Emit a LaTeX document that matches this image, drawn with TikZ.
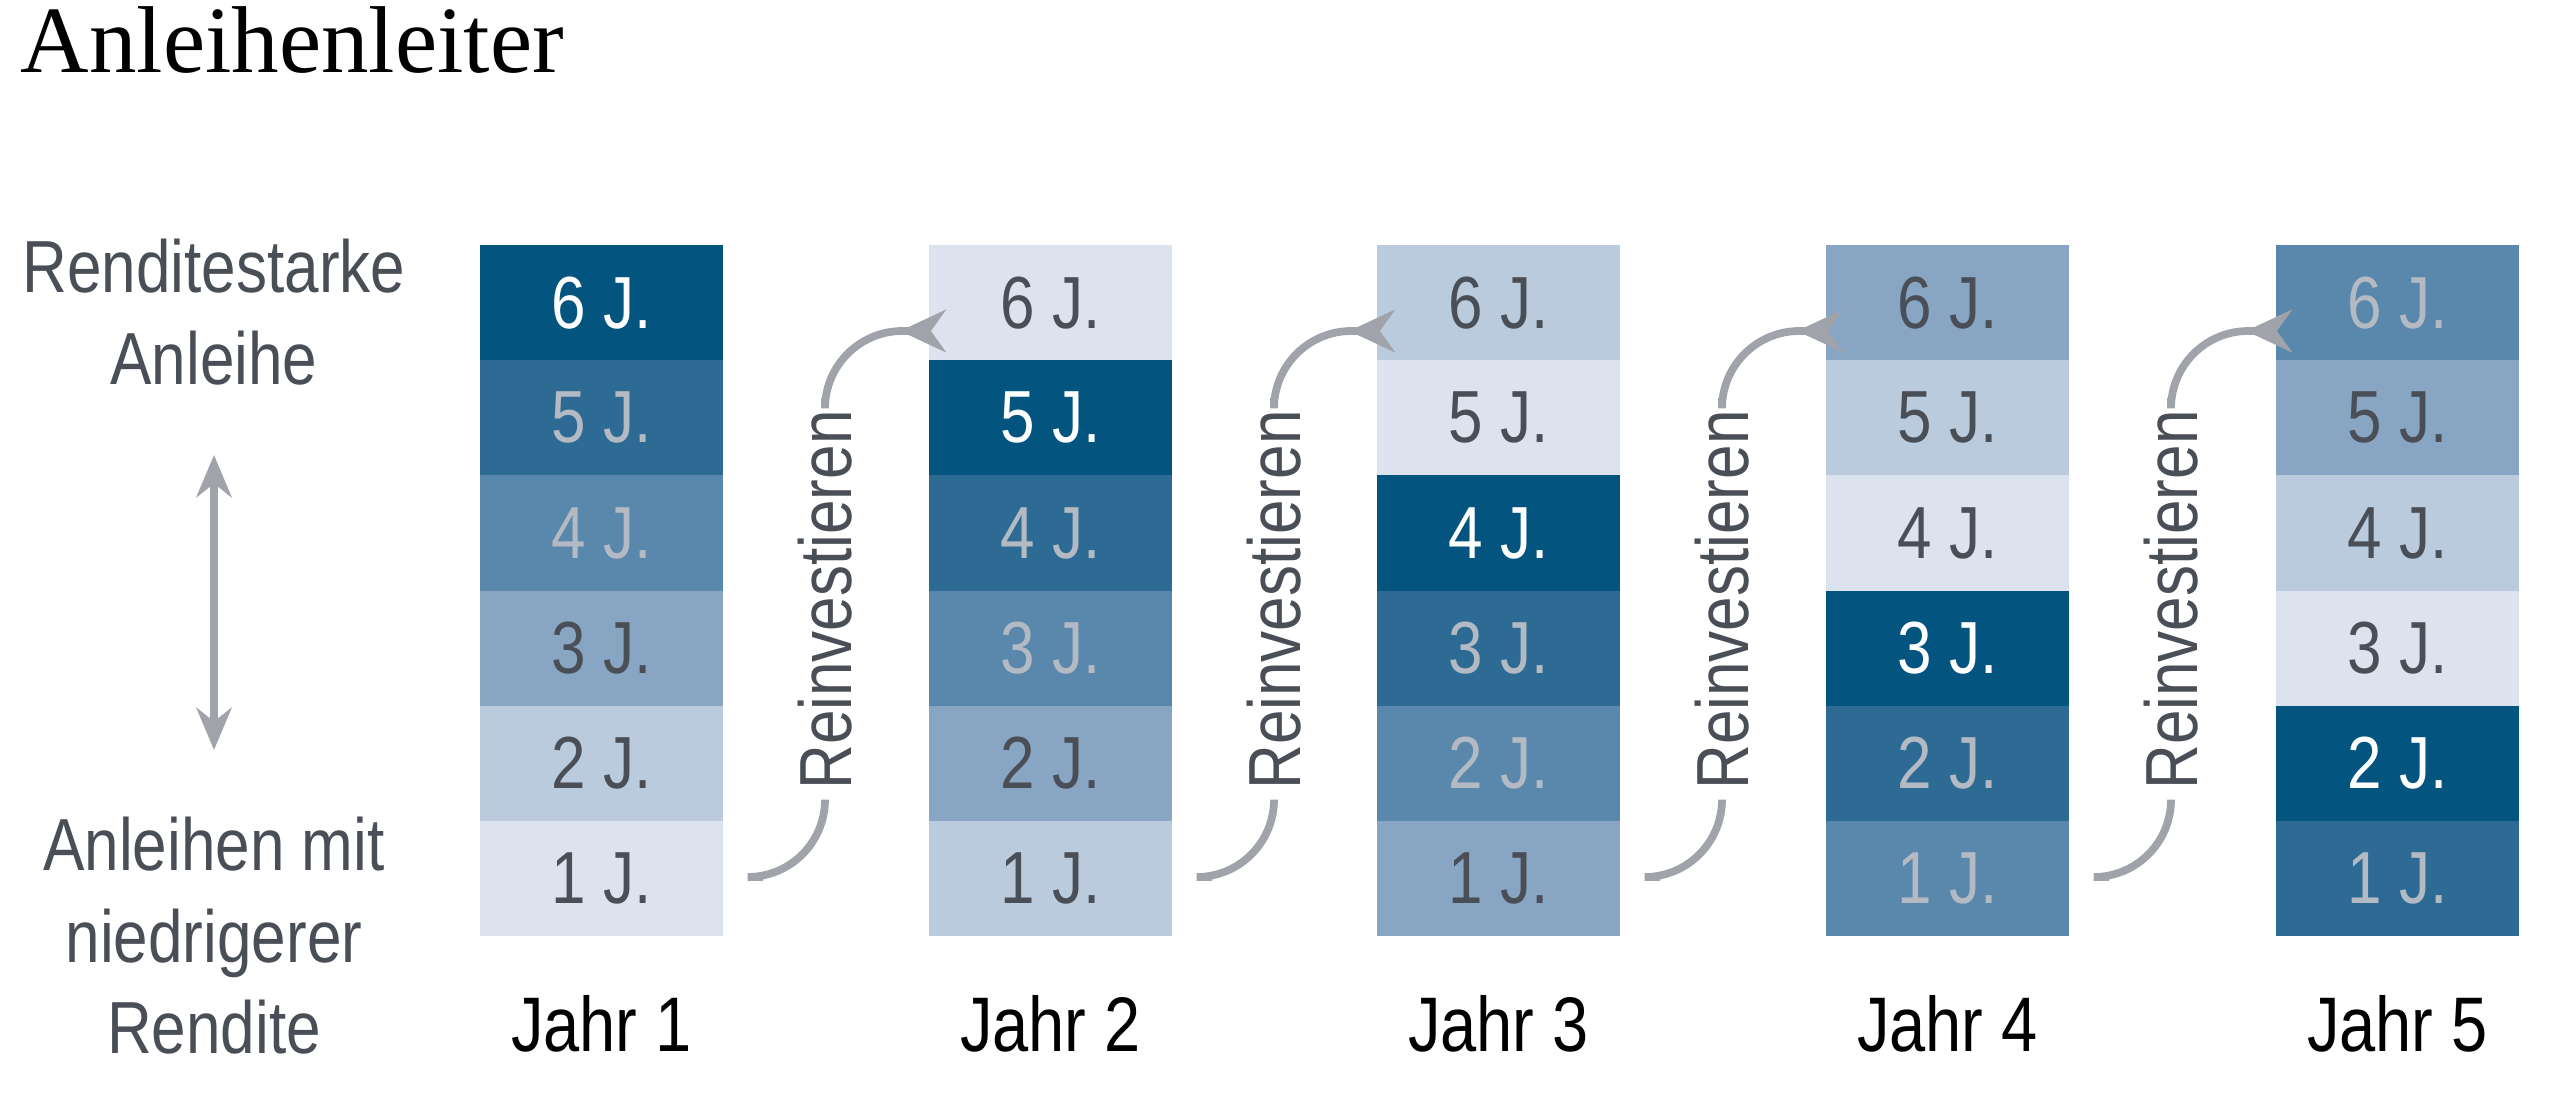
\documentclass[tikz,border=0pt]{standalone}
\usepackage{fontspec}
\setmainfont{Liberation Sans}[FakeStretch=0.84]
\newfontfamily\titlefont{Liberation Serif}
\usetikzlibrary{arrows.meta}
\definecolor{lvA}{HTML}{03547E}
\definecolor{lvB}{HTML}{2E6B94}
\definecolor{lvC}{HTML}{5A87AC}
\definecolor{lvD}{HTML}{88A6C4}
\definecolor{lvE}{HTML}{BACBDE}
\definecolor{lvF}{HTML}{DCE3EE}
\definecolor{txdark}{HTML}{4A4F57}
\definecolor{txlight}{HTML}{B3BAC4}
\definecolor{arrowgray}{HTML}{A0A4AA}
\tikzset{
  cellbox/.style={minimum width=243\pgflinewidth, inner sep=0pt, font=\fontsize{21}{24}\selectfont},
  labeltext/.style={font=\fontsize{21}{26}\selectfont, text=txdark, align=center},
  yeartext/.style={font=\fontsize{22}{26}\selectfont, text=black},
  reinvest/.style={draw=arrowgray, line width=2.2pt, rounded corners=22pt}
}
\begin{document}
\begin{tikzpicture}[x=0.01cm, y=-0.01cm]
  \useasboundingbox (0,0) rectangle (2560,1100);
  % title
  \node (title) [anchor=base west, inner sep=0pt, font=\titlefont\fontsize{27}{30}\selectfont]
        at (20,72) {Anleihenleiter};

  % left axis labels
  \node (high) [labeltext] at (214,312) {Renditestarke\\Anleihe};
  \node (low) [labeltext] at (214,936) {Anleihen mit\\niedrigerer\\Rendite};
  \coordinate (uptip) at (214,455);
  \coordinate (downtip) at (214,750);
  \draw[arrowgray, line width=2.2pt, {Stealth[length=12pt,width=10pt]}-{Stealth[length=12pt,width=10pt]}]
       (uptip) -- (downtip);

  % ladder columns
  \foreach \c/\xl in {0/480, 1/929, 2/1377, 3/1826, 4/2276} {
    \foreach \r in {0,...,5} {
      \pgfmathtruncatemacro{\lv}{mod(\r-\c+6,6)}
      \pgfmathtruncatemacro{\yrs}{6-\r}
      \ifcase\lv \def\fc{lvA}\def\tc{white}
      \or \def\fc{lvB}\def\tc{txlight}
      \or \def\fc{lvC}\def\tc{txlight}
      \or \def\fc{lvD}\def\tc{txdark}
      \or \def\fc{lvE}\def\tc{txdark}
      \else \def\fc{lvF}\def\tc{txdark}\fi
      \fill[\fc] (\xl,245+\r*115.2) rectangle (\xl+243,245+\r*115.2+115.2);
      \node (cell-\c-\r) [text=\tc, font=\fontsize{21}{24}\selectfont]
            at (\xl+121.5,245+\r*115.2+57.6) {\yrs\ J.};
    }
    \pgfmathtruncatemacro{\yr}{\c+1}
    \node (year-\c) [yeartext] at (\xl+121.5,1024) {Jahr \yr};
  }

  % reinvest arrows
  \foreach \c/\xl in {0/480, 1/929, 2/1377, 3/1826} {
    \coordinate (from-\c) at (\xl+283,877);
    \coordinate (to-\c) at (\xl+420,331);
    \node (lab-\c) [rotate=90, font=\fontsize{21}{24}\selectfont, text=txdark]
          at (\xl+345,600) {Reinvestieren};
    \draw[reinvest] (from-\c) -| (lab-\c.west);
    \draw[reinvest, -{Stealth[length=13pt,width=12pt]}] (lab-\c.east) |- (to-\c);
  }
\end{tikzpicture}
\end{document}
